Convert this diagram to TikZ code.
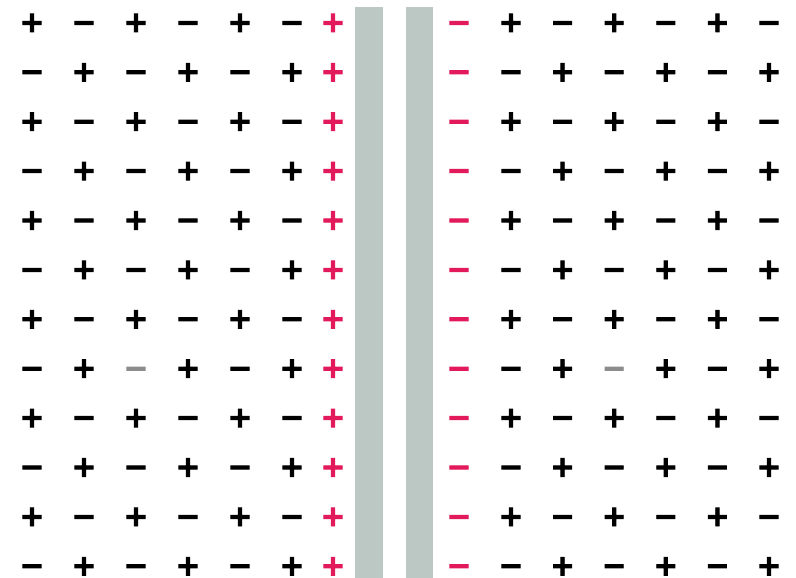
\documentclass[tikz,border=0pt]{standalone}
\usepackage{fontspec}
\newfontfamily\signfont{DejaVu Sans Bold}[FakeBold=3]
\usepackage{tikz}
\usetikzlibrary{positioning}
\definecolor{charge}{HTML}{E2195B}
\definecolor{plate}{HTML}{BCC8C4}
\definecolor{faint}{HTML}{8C8C8C}
\tikzset{ion/.style={font=\signfont\fontsize{29}{29}\selectfont, inner sep=0pt, text height=19pt, text depth=0pt}}

\begin{document}
\begin{tikzpicture}[x=1pt, y=-1pt]
\useasboundingbox (0,0) rectangle (796,578);
% the two plates
\fill[plate] (355,7) rectangle (383,578);
\fill[plate] (406,7) rectangle (433,578);
\foreach \r in {0,...,11} {
  \pgfmathsetmacro{\rowy}{22.5+49.4*\r}
  \foreach \c in {0,...,5} {
    \pgfmathtruncatemacro{\parity}{mod(\r+\c,2)}
    \ifnum\parity=0 \def\sgn{+}\else\def\sgn{−}\fi
    \def\col{black}
    \ifnum\r=7 \ifnum\c=2 \def\col{faint}\fi\fi
    \node[ion, \col] (l-\r-\c) at ({32+52*\c},\rowy) {\sgn};
    \node[ion, \col] (r-\r-\c) at ({511+51.6*\c},\rowy) {\sgn};
  }
  \node[ion, charge] (lp-\r) at (333,\rowy) {+};
  \node[ion, charge] (rm-\r) at (459,\rowy) {−};
}
\end{tikzpicture}
\end{document}
